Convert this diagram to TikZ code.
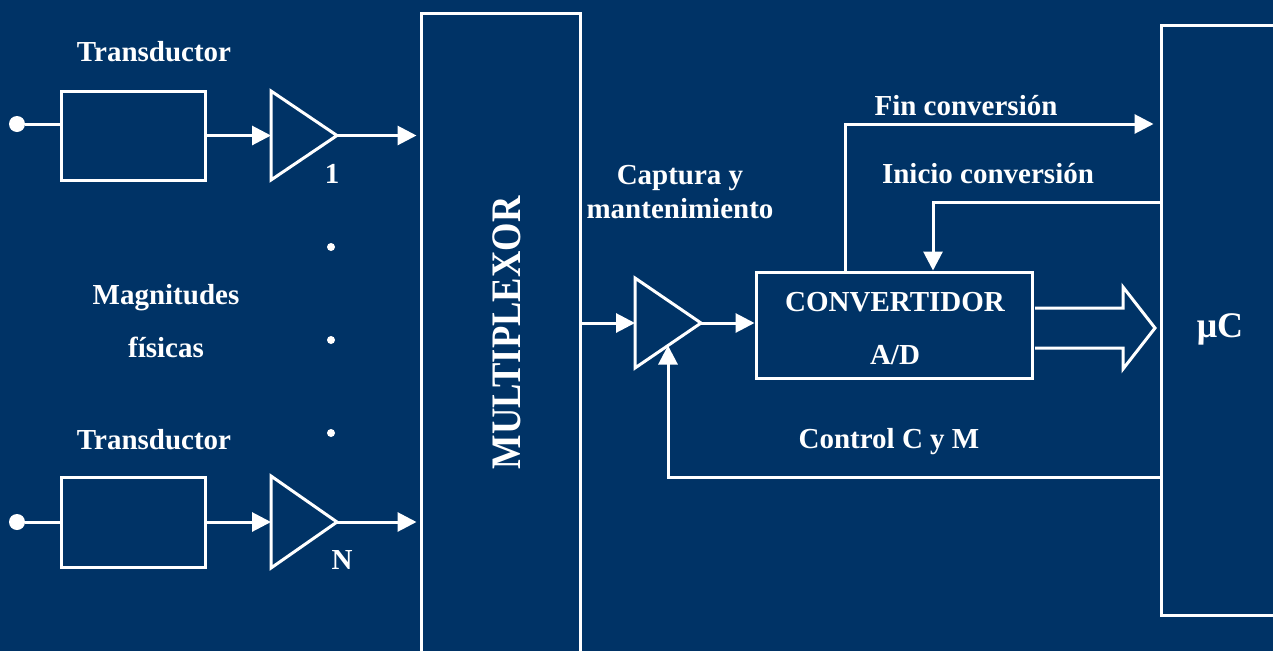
\documentclass[tikz,border=0pt]{standalone}
\usepackage{fontspec}
\setmainfont{Liberation Serif}
\usepackage{graphicx}
\usetikzlibrary{arrows.meta,calc}
\definecolor{navy}{RGB}{0,51,102}

\begin{document}
\begin{tikzpicture}[x=1pt,y=-1pt,
  wire/.style={draw=white,line width=3pt},
  flow/.style={wire,-{Triangle[length=19pt,width=19pt]}},
  block/.style={draw=white,line width=3pt,inner sep=0pt},
  amp/.style={draw=white,line width=3pt,line join=miter},
  terminal/.style={circle,fill=white,minimum size=16pt,inner sep=0pt},
  ellip/.style={circle,fill=white,minimum size=8pt,inner sep=0pt},
  lbl/.style={text=white,font=\fontsize{29}{34}\selectfont\bfseries,anchor=base,inner sep=0pt},
]
% background and page size
\fill[navy] (0,0) rectangle (1273,651);
\useasboundingbox (0,0) rectangle (1273,651);

% ---- input channel 1 ----
\node[terminal] (in1) at (17,124) {};
\node[block,minimum width=144pt,minimum height=89pt] (tr1) at (133,135.5) {};
\coordinate (a1in) at (271,135.5);
\coordinate (a1out) at (337,135.5);
\draw[amp] (271,91) -- (a1out) -- (271,180) -- cycle;

% ---- input channel N ----
\node[terminal] (inN) at (17,522) {};
\node[block,minimum width=144pt,minimum height=90pt] (trN) at (133,522) {};
\coordinate (aNin) at (271,522);
\coordinate (aNout) at (337,522);
\draw[amp] (271,476) -- (aNout) -- (271,568) -- cycle;

% ---- multiplexer ----
\node[block,minimum width=159pt,minimum height=660pt] (mux) at (500.5,343) {};
\node[lbl,rotate=90,font=\fontsize{42}{46}\selectfont\bfseries] (muxlbl) at (520,333)
  {\scalebox{0.87}[1]{MULTIPLEXOR}};

% ---- sample and hold ----
\coordinate (shin) at (635,323);
\coordinate (shout) at (701,323);
\coordinate (shctl) at (668,345.5);
\draw[amp] (635,278) -- (shout) -- (635,368) -- cycle;

% ---- A/D converter ----
\node[block,minimum width=276pt,minimum height=106pt] (conv) at (894,325) {};
\node[lbl] (convA) at (895,311) {CONVERTIDOR};
\node[lbl] (convB) at (895,364) {A/D};

% ---- microcontroller ----
\node[block,minimum width=139pt,minimum height=590pt] (mc) at (1230.5,320) {};
\node[lbl,font=\fontsize{36}{40}\selectfont\bfseries] (mclbl) at (1220,337) {μC};

% ---- connections ----
\draw[wire] (in1) -- (in1 -| tr1.west);
\draw[flow] (tr1.east |- a1in) -- (a1in);
\draw[flow,shorten >=3pt] (a1out) -- (a1out -| mux.west);

\draw[wire] (inN) -- (inN -| trN.west);
\draw[flow] (trN.east |- aNin) -- (aNin);
\draw[flow,shorten >=3pt] (aNout) -- (aNout -| mux.west);

\draw[flow] (mux.east |- shin) -- (shin);
\draw[flow] (shout) -- (conv.west |- shout);

\coordinate (fin) at (845,124);
\draw[flow] (fin |- conv.north) -- (fin) -- ([xshift=-6pt]mc.west |- fin);

\coordinate (ini) at (933,202);
\draw[flow] (mc.west |- ini) -- (ini) -- (ini |- conv.north);

\coordinate (ctl) at (668,477);
\draw[flow] (mc.west |- ctl) -- (ctl) -- (shctl);

% wide data bus arrow
\draw[amp] ([xshift=1.5pt]conv.east |- 0,308) -- (1123,308) -- (1123,287) -- (1155,328)
  -- (1123,369) -- (1123,348) -- ([xshift=1.5pt]conv.east |- 0,348);

% ---- ellipsis dots ----
\node[ellip] (e1) at (331,247) {};
\node[ellip] (e2) at (331,340) {};
\node[ellip] (e3) at (331,433) {};

% ---- labels ----
\node[lbl] (t1) at (154,61) {Transductor};
\node[lbl] (tN) at (154,449) {Transductor};
\node[lbl] (mag1) at (166,304) {Magnitudes};
\node[lbl] (mag2) at (166,357) {físicas};
\node[lbl] (n1) at (332,183) {1};
\node[lbl] (nN) at (342,569) {N};
\node[lbl] (cap1) at (680,184) {Captura y};
\node[lbl] (cap2) at (680,218) {mantenimiento};
\node[lbl] (finl) at (966,115) {Fin conversión};
\node[lbl] (inil) at (988,183) {Inicio conversión};
\node[lbl] (ctll) at (889,448) {Control C y M};
\end{tikzpicture}
\end{document}
